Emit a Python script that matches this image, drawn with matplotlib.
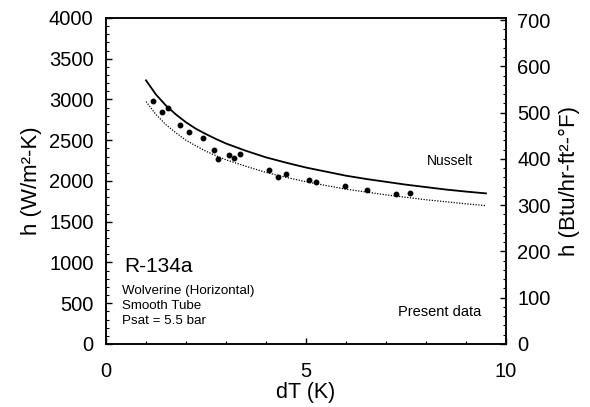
import matplotlib
matplotlib.use('Agg')
import matplotlib.pyplot as plt
from matplotlib.ticker import MultipleLocator

plt.rcParams['font.family'] = ['Liberation Sans', 'DejaVu Sans']

# measured data (present data)
dT_data = [1.17, 1.41, 1.56, 1.84, 2.08, 2.43, 2.71, 2.81, 3.08, 3.19, 3.34,
           4.07, 4.31, 4.51, 5.08, 5.25, 5.98, 6.52, 7.24, 7.60]
h_data = [2985, 2850, 2900, 2685, 2595, 2530, 2375, 2265, 2315, 2285, 2335,
          2135, 2050, 2080, 2010, 1985, 1940, 1885, 1845, 1855]

# curves
dT_curve = [1.0, 1.25, 1.5, 1.75, 2.0, 2.25, 2.5, 2.75, 3.0, 3.5, 4.0, 4.5,
            5.0, 5.5, 6.0, 6.5, 7.0, 7.5, 8.0, 8.5, 9.0, 9.5]
h_nusselt = [3235, 3060, 2925, 2815, 2720, 2640, 2575, 2515, 2460, 2370, 2290,
             2225, 2165, 2115, 2065, 2025, 1990, 1955, 1925, 1895, 1870, 1848]
h_fit = [2975, 2815, 2690, 2590, 2500, 2430, 2365, 2310, 2260, 2180, 2105,
         2045, 1990, 1945, 1900, 1865, 1830, 1800, 1770, 1745, 1720, 1698]

W_PER_BTU = 5.678

fig = plt.figure(figsize=(5.9, 4.07), dpi=100)
ax = fig.add_axes([0.1797, 0.1548, 0.6779, 0.801])

ax.plot(dT_curve, h_nusselt, color='black', lw=1.3)
ax.plot(dT_curve, h_fit, color='black', lw=0.9, linestyle=(0, (1, 1.2)))
ax.plot(dT_data, h_data, 'o', color='black', markersize=3.2)

ax.set_xlim(0, 10)
ax.set_ylim(0, 4000)
ax.xaxis.set_major_locator(MultipleLocator(5))
ax.xaxis.set_minor_locator(MultipleLocator(1))
ax.yaxis.set_major_locator(MultipleLocator(500))
ax.yaxis.set_minor_locator(MultipleLocator(100))
ax.tick_params(which='both', direction='in', labelsize=14.5)
ax.tick_params(axis='x', which='both', pad=13)
ax.tick_params(axis='y', which='both', pad=9)
ax.tick_params(which='major', length=4, width=1)
ax.tick_params(which='minor', length=2.5, width=0.8)
ax.set_xlabel('dT (K)', fontsize=15.5, labelpad=1)
ax.set_ylabel('h (W/m²-K)', fontsize=16, labelpad=5)

ax2 = ax.twinx()
ax2.set_ylim(0, 4000 / W_PER_BTU)
ax2.yaxis.set_major_locator(MultipleLocator(100))
ax2.yaxis.set_minor_locator(MultipleLocator(20))
ax2.tick_params(which='both', direction='in', labelsize=14.5, pad=8)
ax2.tick_params(which='major', length=4, width=1)
ax2.tick_params(which='minor', length=2.5, width=0.8)
ax2.set_ylabel('h (Btu/hr-ft²-°F)', fontsize=16, labelpad=6)

for a in (ax, ax2):
    for s in a.spines.values():
        s.set_linewidth(1.1)

ax.text(8.59, 2245, 'Nusselt', fontsize=10, ha='center', va='center')
ax.text(8.35, 393, 'Present data', fontsize=10.5, ha='center', va='center')
ax.text(0.45, 945, 'R-134a', fontsize=15, ha='left', va='center')
ax.text(0.4, 654, 'Wolverine (Horizontal)', fontsize=9.6, ha='left', va='center')
ax.text(0.4, 466, 'Smooth Tube', fontsize=9.6, ha='left', va='center')
ax.text(0.4, 282, 'Psat = 5.5 bar', fontsize=9.6, ha='left', va='center')

fig.savefig('out.png', dpi=100)
